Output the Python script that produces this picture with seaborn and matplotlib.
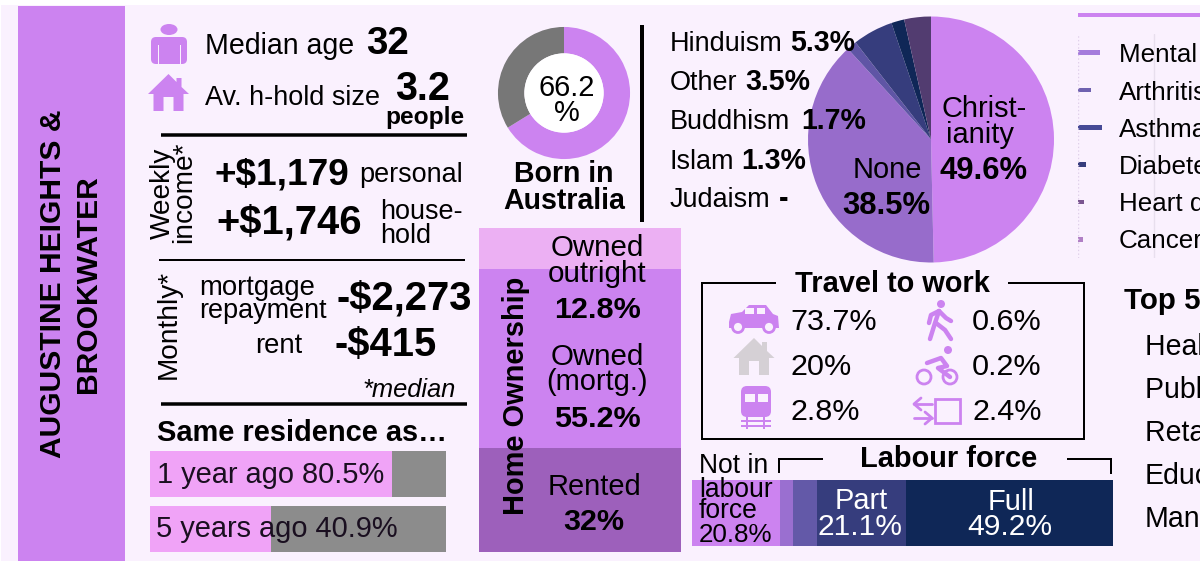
import numpy as np
import matplotlib
matplotlib.use('Agg')
import matplotlib.pyplot as plt
from matplotlib.patches import Rectangle, Polygon, Circle, FancyBboxPatch, Ellipse
import seaborn as sns

# data
residence_labels = ['1 year ago 80.5%', '5 years ago 40.9%']
residence_vals = [81.8, 40.9]

born_vals = [66.2, 33.8]

religion_names = ['Christianity', 'None', 'Islam', 'Hinduism', 'Buddhism', 'Other']
religion_vals = [49.6, 38.5, 1.3, 5.3, 1.7, 3.5]
religion_cols = ['#cc83f0', '#976ccb', '#5f55a5', '#363d7d', '#0f2757', '#523c70']

own_names = ['outright', 'mortgage', 'rented']
own_vals = [12.8, 55.2, 32.0]
own_cols = ['#ecb0f3', '#cc83f0', '#9d60bb']

labour_vals = [20.8, 3.3, 5.6, 21.1, 49.2]
labour_cols = ['#cc83f0', '#9a6fd0', '#6359a8', '#363d7d', '#0f2757']

health_names = ['Mental health', 'Arthritis', 'Asthma', 'Diabetes', 'Heart disease', 'Cancer']
health_vals = [8.7, 5.1, 9.5, 3.2, 2.4, 2.0]
health_cols = ['#a57cdc', '#6f62b0', '#464a96', '#363d7d', '#7a5590', '#b07fc5']

industry_names = ['Health care', 'Public admin', 'Retail trade', 'Education', 'Manufacturing']

religion_rows = [('Hinduism', '5.3%', 51, 790), ('Other', '3.5%', 90, 745), ('Buddhism', '1.7%', 129, 801),
                 ('Islam', '1.3%', 169, 741), ('Judaism', '-', 207, 779)]
travel_left = ['73.7%', '20%', '2.8%']
travel_right = ['0.6%', '0.2%', '2.4%']

PURPLE = '#cc83f0'
BG = '#faf1fe'

sns.set_theme(style='white')
plt.rcParams['font.family'] = ['Liberation Sans', 'DejaVu Sans']

W, H = 1200, 570
fig = plt.figure(figsize=(12, 5.7), dpi=100, facecolor='white')


def pax(x0, y0, x1, y1, z=1):
    # axes placed in pixel coords, y down
    a = fig.add_axes([x0 / W, 1 - y1 / H, (x1 - x0) / W, (y1 - y0) / H], zorder=z)
    a.patch.set_alpha(0)
    return a


def clean(a):
    a.set_xticks([])
    a.set_yticks([])
    a.set_xlabel('')
    a.set_ylabel('')
    sns.despine(ax=a, left=True, bottom=True)


bg = pax(0, 0, W, H, 0)
bg.set_xlim(0, W)
bg.set_ylim(H, 0)
bg.axis('off')
bg.add_patch(Rectangle((1, 5), 1199, 556, color=BG, lw=0))
bg.add_patch(Rectangle((18, 6), 107, 555, color=PURPLE, lw=0))

# same residence bars
for i, (v, top) in enumerate(zip(residence_vals, [451, 506])):
    a = pax(150, top, 446, top + 46)
    sns.barplot(x=[100], y=[residence_labels[i]], color='#8c8c8c', saturation=1, width=1, linewidth=0, ax=a)
    sns.barplot(x=[v], y=[residence_labels[i]], color='#f0a3f7', saturation=1, width=1, linewidth=0, ax=a)
    a.set_xlim(0, 100)
    a.set_ylim(0.5, -0.5)
    clean(a)

# home ownership, stacked by overdrawing from the back
a = pax(479, 228, 681, 552)
cum = np.cumsum(own_vals)
for v, c in list(zip(cum, own_cols))[::-1]:
    sns.barplot(x=['home'], y=[v], color=c, saturation=1, width=1, linewidth=0, ax=a)
a.set_xlim(-0.5, 0.5)
a.set_ylim(100, 0)
clean(a)

# labour force
a = pax(692, 480, 1113, 546)
cum = np.cumsum(labour_vals)
for v, c in list(zip(cum, labour_cols))[::-1]:
    sns.barplot(x=[v], y=['labour'], color=c, saturation=1, width=1, linewidth=0, ax=a)
a.set_xlim(0, cum[-1])
a.set_ylim(0.5, -0.5)
clean(a)

# health bars
a = pax(1078, 34, 1200, 258)
sns.barplot(x=health_vals, y=health_names, hue=health_names, palette=health_cols, saturation=1,
            width=0.13, linewidth=0, legend=False, ax=a)
a.set_xlim(0, 48)
a.set_ylim(5.5, -0.5)
a.axvline(30, color='#e8dfee', lw=1)
a.axvline(0, color='#e0d0ea', lw=1, ls=':')
clean(a)

# donut
a = pax(494, 23, 634, 163)
a.pie(born_vals, colors=[PURPLE, '#777777'], startangle=90, counterclock=False, radius=1,
      wedgeprops=dict(width=0.4, lw=0))
a.add_patch(Circle((0, 0), 0.6, color='white', lw=0, zorder=3))
a.set_xlim(-1.06, 1.06)
a.set_ylim(-1.06, 1.06)

# religion pie
a = pax(808, 16.5, 1054, 262.5)
a.pie(religion_vals, colors=religion_cols, startangle=90, counterclock=False, radius=1,
      wedgeprops=dict(lw=0))
a.set_xlim(-1, 1)
a.set_ylim(-1, 1)

# everything else goes on a pixel overlay
ov = pax(0, 0, W, H, 10)
ov.set_xlim(0, W)
ov.set_ylim(H, 0)
ov.axis('off')


def T(x, y, s, px, bold=False, ha='left', color='black', rot=0, italic=False, va='baseline'):
    ov.text(x, y, s, fontsize=px * 0.72, fontweight='bold' if bold else 'normal', ha=ha, va=va,
            color=color, rotation=rot, style='italic' if italic else 'normal', clip_on=False,
            rotation_mode='anchor' if rot else 'default')


def L(x, y, lw=2):
    ov.plot(x, y, color='black', lw=lw * 0.72, solid_capstyle='butt', solid_joinstyle='miter')


def P(pts, c=PURPLE):
    ov.add_patch(Polygon(pts, closed=True, color=c, lw=0))


def R(x, y, w, h, c=PURPLE):
    ov.add_patch(Rectangle((x, y), w, h, color=c, lw=0))


def house(cx, top, s, c):
    P([(cx - 20.5 * s, top + 20 * s), (cx, top), (cx + 8 * s, top + 8 * s), (cx + 8 * s, top + 4 * s),
       (cx + 13 * s, top + 4 * s), (cx + 13 * s, top + 13 * s), (cx + 20.5 * s, top + 20 * s),
       (cx + 15 * s, top + 20 * s), (cx + 15 * s, top + 37 * s), (cx + 5 * s, top + 37 * s),
       (cx + 5 * s, top + 23 * s), (cx - 5 * s, top + 23 * s), (cx - 5 * s, top + 37 * s),
       (cx - 15 * s, top + 37 * s), (cx - 15 * s, top + 20 * s)], c)


# title
T(53, 284, 'AUGUSTINE HEIGHTS &', 30, True, ha='center', rot=90, va='center')
T(88, 284, 'BROOKWATER', 30, True, ha='center', rot=90, va='center')

# person icon
ov.add_patch(Ellipse((169, 29.5), 17, 11, color=PURPLE, lw=0))
ov.add_patch(FancyBboxPatch((151, 37), 36, 27, boxstyle='round,pad=0,rounding_size=5', color=PURPLE, lw=0))
R(157.5, 45, 1.2, 20, BG)
R(179.5, 45, 1.2, 20, BG)
house(168.5, 74, 1, PURPLE)

T(205, 54, 'Median age', 28.5)
T(366, 54, '32', 38.5, True)
T(205, 105, 'Av. h-hold size', 27)
T(395, 100, '3.2', 39.5, True)
T(385, 124, 'people', 24.5, True)
L([161, 467], [135, 135], 3.5)

T(170, 239, 'Weekly', 28, rot=90)
T(191, 243, 'income*', 28, rot=90)
T(214, 185, '+$1,179', 37, True)
T(359, 182, 'personal', 27)
T(216, 234, '+$1,746', 40, True)
T(380, 219, 'house-', 27)
T(380, 243, 'hold', 27)
L([159, 465], [259.5, 259.5], 2)

T(176, 379, 'Monthly*', 28, rot=90)
T(199, 295, 'mortgage', 27.5)
T(199, 318, 'repayment', 27)
T(255, 353, 'rent', 27.5)
T(336, 309, '-$2,273', 40, True)
T(335, 356, '-$415', 40, True)
T(362, 397, '*median', 25.5, italic=True)
L([161, 467], [404, 404], 3.5)

T(157, 441, 'Same residence as…', 29, True)
T(157, 483, residence_labels[0], 29, color='#1a0f20')
T(156, 537, residence_labels[1], 29, color='#1a0f20')

# born in australia
T(567, 96, '66.2', 29, ha='center')
T(567, 121, '%', 29, ha='center')
T(564, 182, 'Born in', 28.5, True, ha='center')
T(564, 209, 'Australia', 28.5, True, ha='center')
L([642, 642], [25, 222], 4)

# religion
for name, val, y, bx in religion_rows:
    T(670, y, name, 27)
    T(bx, y, val, 28.5, True)
T(887, 178, 'None', 29, ha='center')
T(886.5, 214, '38.5%', 31, True, ha='center')
T(984, 117, 'Christ-', 29, ha='center')
T(980, 143, 'ianity', 29, ha='center')
T(984, 179, '49.6%', 31, True, ha='center')

# home ownership
T(524, 396, 'Home Ownership', 29, True, ha='center', rot=90)
T(597, 256, 'Owned', 29.5, ha='center')
T(597, 282, 'outright', 29.5, ha='center')
T(597, 318, '12.8%', 30.5, True, ha='center')
T(597, 365, 'Owned', 29.5, ha='center')
T(597, 390, '(mortg.)', 29, ha='center')
T(597, 427, '55.2%', 30.5, True, ha='center')
T(594, 495, 'Rented', 29, ha='center')
T(594, 530, '32%', 30.5, True, ha='center')

# travel box
T(892, 292, 'Travel to work', 29, True, ha='center')
L([776, 702, 702, 1084, 1084, 1008], [283, 283, 439, 439, 283, 283], 2)
for s, y in zip(travel_left, [330, 375, 420]):
    T(790, y, s, 30.5)
for s, y in zip(travel_right, [330, 375, 420]):
    T(972, y, s, 30.5)

# car
P([(729, 322), (731, 314), (742, 312), (749, 305), (766, 305), (773, 314), (778, 316), (779, 328), (729, 328)])
R(745, 308, 9, 6, BG)
R(757, 308, 8, 6, BG)
for cx in [738, 769]:
    ov.add_patch(Circle((cx, 327), 5.5, fc=BG, ec=PURPLE, lw=2))
# stay at home
house(754, 338, 1, '#d5d0d5')
# train
ov.add_patch(FancyBboxPatch((741, 386), 30, 31, boxstyle='round,pad=0,rounding_size=6', color=PURPLE, lw=0))
R(745, 394, 10, 8, BG)
R(758, 394, 10, 8, BG)
for y in [420, 425]:
    R(741, y, 30, 1.8)
for x in [746, 763]:
    R(x, 417, 2, 12)
# walker
ov.add_patch(Circle((941, 304), 4, color=PURPLE, lw=0))
L_w = dict(color=PURPLE, lw=3.2, solid_capstyle='round')
ov.plot([939, 935, 930], [311, 323, 339], **L_w)
ov.plot([936, 945, 951], [323, 330, 339], **L_w)
ov.plot([939, 931, 929], [311, 315, 323], **L_w)
ov.plot([939, 946, 951], [311, 318, 321], **L_w)
# bike
for cx in [924, 950]:
    ov.add_patch(Circle((cx, 377), 7, fc='none', ec=PURPLE, lw=2))
ov.add_patch(Circle((948, 350), 4, color=PURPLE, lw=0))
ov.plot([927, 941, 947, 938, 950], [363, 358, 366, 368, 377], **L_w)
# arrows and box
ov.add_patch(Rectangle((935, 399), 25, 24, fc='none', ec=PURPLE, lw=2))
ov.plot([914, 932], [404, 404], color=PURPLE, lw=2)
ov.plot([921, 914, 921], [398, 404, 410], color=PURPLE, lw=2)
ov.plot([914, 932], [418, 418], color=PURPLE, lw=2)
ov.plot([925, 932, 925], [412, 418, 424], color=PURPLE, lw=2)

# labour force
T(949, 467, 'Labour force', 29, True, ha='center')
L([779, 779, 823], [473, 459, 459], 2)
L([1067, 1111, 1111], [459, 459, 474], 2)
T(699, 473, 'Not in', 26.5)
T(699, 497, 'labour', 26.5)
T(699, 518, 'force', 26.5)
T(699, 542, '20.8%', 26)
T(861, 509, 'Part', 29, ha='center', color='white')
T(860, 535, '21.1%', 30, ha='center', color='white')
T(1011, 510, 'Full', 29, ha='center', color='white')
T(1010, 535, '49.2%', 30, ha='center', color='white')

# health, runs off the page like the source
R(1078, 12.5, 122, 4.5)
for name, y in zip(health_names, [53, 91, 128, 165, 202, 239]):
    T(1119, y + 9, name, 26)

T(1124, 309, 'Top 5 industries', 29.5, True)
for name, y in zip(industry_names, [345, 388, 431, 474, 517]):
    T(1145, y + 10, name, 28.5)

fig.savefig('out.png', dpi=100)
